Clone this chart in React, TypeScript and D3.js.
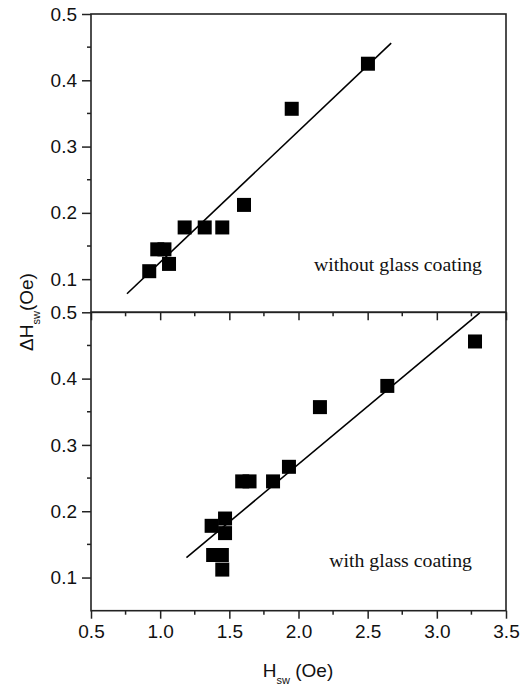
import { useEffect, useRef } from "react";
import * as d3 from "d3";

// without glass coating (top panel)
const hswTop = [0.921, 0.979, 1.031, 1.064, 1.177, 1.322, 1.449, 1.606, 1.951, 2.502];
const dHTop = [0.112, 0.145, 0.145, 0.123, 0.178, 0.178, 0.178, 0.212, 0.357, 0.425];
const fitTopX = [0.76, 2.67];
const fitTopY = [0.078, 0.456];

// with glass coating (bottom panel)
const hswBot = [3.276, 2.642, 2.155, 1.931, 1.816, 1.593, 1.646, 1.469, 1.372, 1.469, 1.383, 1.446, 1.449];
const dHBot = [0.456, 0.389, 0.357, 0.267, 0.245, 0.245, 0.245, 0.189, 0.178, 0.167, 0.134, 0.134, 0.112];
const fitBotX = [1.19, 3.31];
const fitBotY = [0.13, 0.499];

const xTicks = [0.5, 1.0, 1.5, 2.0, 2.5, 3.0, 3.5];
const xMinor = [0.75, 1.25, 1.75, 2.25, 2.75, 3.25];
const yTicks = [0.1, 0.2, 0.3, 0.4, 0.5];
const yMinor = [0.15, 0.25, 0.35, 0.45];

export default function App() {
    const ref = useRef<SVGSVGElement>(null);

    useEffect(() => {
        const svg = d3.select(ref.current);
        svg.selectAll("*").remove();

        const left = 91, right = 506;
        const axisColor = "#222";
        const font = "'Liberation Sans', Arial, sans-serif";

        const x = d3.scaleLinear().domain([0.5, 3.5]).range([left, right]);

        const panels = [
            { top: 14, bottom: 312.3, hsw: hswTop, dH: dHTop, fx: fitTopX, fy: fitTopY, label: "without glass coating", lx: 482, ly: 271 },
            { top: 312.3, bottom: 610.7, hsw: hswBot, dH: dHBot, fx: fitBotX, fy: fitBotY, label: "with glass coating", lx: 472, ly: 567 },
        ];

        panels.forEach((p, pi) => {
            const y = d3.scaleLinear().domain([0.05, 0.5]).range([p.bottom, p.top]);

            // fit line
            svg.append("line")
                .attr("x1", x(p.fx[0])).attr("y1", y(p.fy[0]))
                .attr("x2", x(p.fx[1])).attr("y2", y(p.fy[1]))
                .attr("stroke", "#000")
                .attr("stroke-width", 1.6);

            // square markers
            const s = 14;
            svg.append("g")
                .selectAll("rect")
                .data(p.hsw)
                .join("rect")
                .attr("x", (d) => x(d) - s / 2)
                .attr("y", (d, i) => y(p.dH[i]) - s / 2)
                .attr("width", s)
                .attr("height", s)
                .attr("fill", "#000");

            // left axis
            const yAxis = svg.append("g").attr("transform", `translate(${left},0)`);
            yAxis.call(d3.axisLeft(y).tickValues(yTicks)
                .tickSize(9).tickPadding(5).tickFormat(d3.format(".1f")))
                .call((g) => g.select(".domain").remove())
                .call((g) => g.selectAll("line").attr("stroke", axisColor).attr("stroke-width", 1.5))
                .call((g) => g.selectAll("text").style("font-family", font).style("font-size", "19px").attr("fill", "#111"));
            yAxis.selectAll(".minor")
                .data(yMinor)
                .join("line")
                .attr("x1", -4).attr("x2", 0)
                .attr("y1", (d) => y(d)).attr("y2", (d) => y(d))
                .attr("stroke", axisColor).attr("stroke-width", 1.5);

            // bottom axis of each panel
            const xAxis = svg.append("g").attr("transform", `translate(0,${p.bottom})`);
            xAxis.call(d3.axisBottom(x).tickValues(xTicks).tickSize(8).tickPadding(6)
                .tickFormat(pi === 1 ? d3.format(".1f") : () => ""))
                .call((g) => g.select(".domain").remove())
                .call((g) => g.selectAll("line").attr("stroke", axisColor).attr("stroke-width", 1.5))
                .call((g) => g.selectAll("text").style("font-family", font).style("font-size", "19px").attr("fill", "#111"));
            xAxis.selectAll(".minor")
                .data(xMinor)
                .join("line")
                .attr("x1", (d) => x(d)).attr("x2", (d) => x(d))
                .attr("y1", 0).attr("y2", 4)
                .attr("stroke", axisColor).attr("stroke-width", 1.5);

            // frame
            svg.append("rect")
                .attr("x", left).attr("y", p.top)
                .attr("width", right - left).attr("height", p.bottom - p.top)
                .attr("fill", "none")
                .attr("stroke", axisColor)
                .attr("stroke-width", 1.6);

            // panel annotation
            svg.append("text")
                .attr("x", p.lx).attr("y", p.ly)
                .attr("text-anchor", "end")
                .style("font-family", "'Liberation Serif', 'Times New Roman', serif")
                .style("font-size", "19.8px")
                .attr("fill", "#111")
                .text(p.label);
        });

        // x axis title
        const xt = svg.append("text")
            .attr("x", 298).attr("y", 677)
            .attr("text-anchor", "middle")
            .style("font-family", font)
            .style("font-size", "19px")
            .attr("fill", "#111");
        xt.append("tspan").text("H");
        xt.append("tspan").attr("dy", 7).style("font-size", "11px").text("sw");
        xt.append("tspan").attr("dy", -7).text(" (Oe)");

        // y axis title
        const yt = svg.append("text")
            .attr("transform", "translate(33,312) rotate(-90)")
            .attr("text-anchor", "middle")
            .style("font-family", font)
            .style("font-size", "19px")
            .attr("fill", "#111");
        yt.append("tspan").text("ΔH");
        yt.append("tspan").attr("dy", 7).style("font-size", "11px").text("sw");
        yt.append("tspan").attr("dy", -7).text("(Oe)");
    }, []);

    return (
        <svg ref={ref} width={523} height={686}
            style={{ position: "absolute", left: 0, top: 0, background: "#fff" }} />
    );
}
